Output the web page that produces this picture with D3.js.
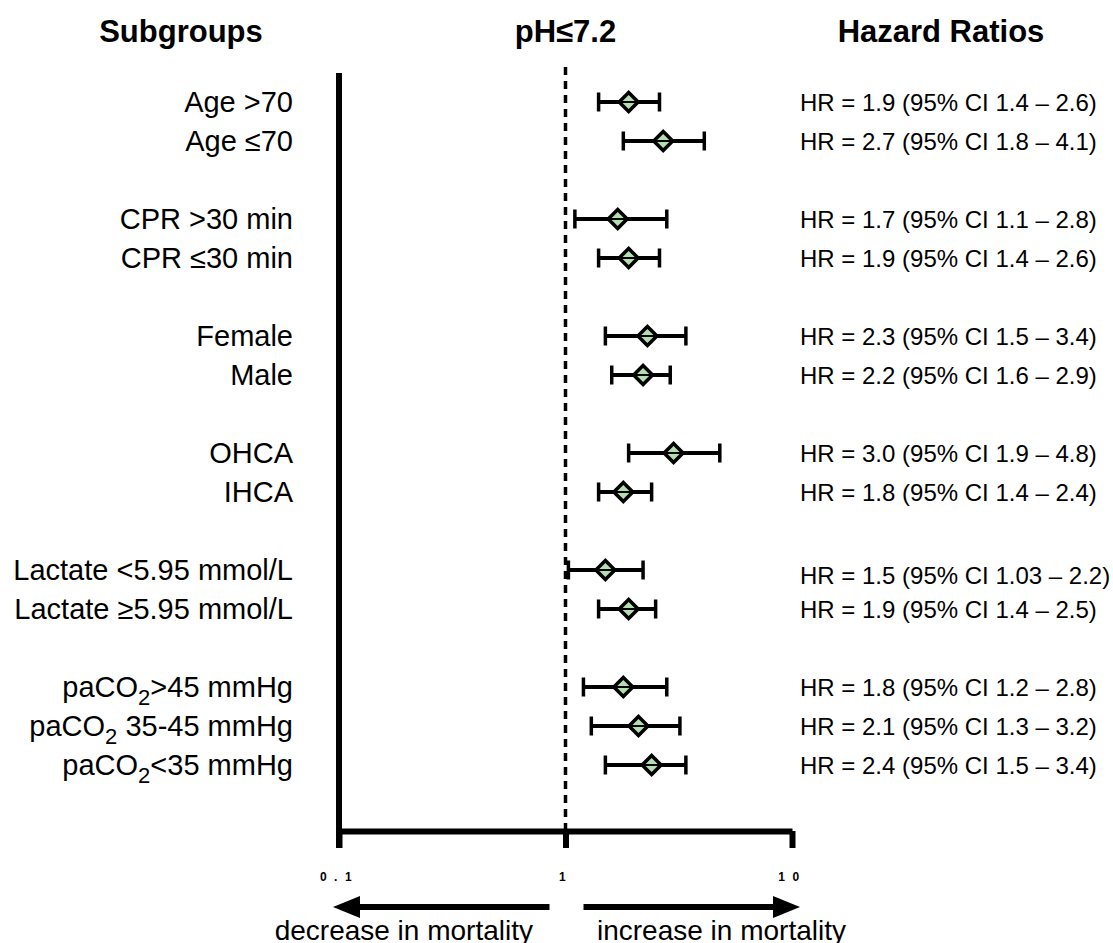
<!DOCTYPE html>
<html>
<head>
<meta charset="utf-8">
<script src="https://cdn.jsdelivr.net/npm/d3@7"></script>
<style>
  html, body { margin: 0; padding: 0; background: #fff; }
  svg { display: block; }
  text { font-family: "Liberation Sans", Arial, Helvetica, sans-serif; fill: #000; }
</style>
</head>
<body>
<svg id="chart" width="1113" height="943"></svg>
<script>
// ---- data ----
const subgroups = ["Age >70", "Age ≤70", "CPR >30 min", "CPR ≤30 min", "Female", "Male",
  "OHCA", "IHCA", "Lactate <5.95 mmol/L", "Lactate ≥5.95 mmol/L",
  "paCO2>45 mmHg", "paCO2 35-45 mmHg", "paCO2<35 mmHg"];
const groupIds = [0, 0, 1, 1, 2, 2, 3, 3, 4, 4, 5, 5, 5];
const hazardRatio = [1.9, 2.7, 1.7, 1.9, 2.3, 2.2, 3.0, 1.8, 1.5, 1.9, 1.8, 2.1, 2.4];
const ciLower = [1.4, 1.8, 1.1, 1.4, 1.5, 1.6, 1.9, 1.4, 1.03, 1.4, 1.2, 1.3, 1.5];
const ciUpper = [2.6, 4.1, 2.8, 2.6, 3.4, 2.9, 4.8, 2.4, 2.2, 2.5, 2.8, 3.2, 3.4];
const tickValues = [0.1, 1, 10];
const tickLabels = ["0.1", "1", "10"];
const headers = ["Subgroups", "pH≤7.2", "Hazard Ratios"];
const directionLabels = ["decrease in mortality", "increase in mortality"];

// ---- layout ----
const svg = d3.select("#chart");
const x = d3.scaleLog().domain([0.1, 10]).range([339, 792]);
const slots = subgroups.map((d, i) => i + groupIds[i]);
const y = d3.scaleLinear().domain([0, d3.max(slots)]).range([102, 765]);
const axisY = 831;
const rows = subgroups.map((s, i) => ({
  label: s, hr: hazardRatio[i], lo: ciLower[i], hi: ciUpper[i], slot: slots[i]
}));

// headers
const headerX = [181, x(1), 941];
svg.selectAll("text.header").data(headers).join("text")
  .attr("class", "header")
  .attr("x", (d, i) => headerX[i]).attr("y", 42)
  .attr("text-anchor", "middle")
  .style("font-weight", "bold").style("font-size", "31px")
  .text(d => d);

// left vertical line
svg.append("line")
  .attr("x1", x(0.1)).attr("x2", x(0.1))
  .attr("y1", 73).attr("y2", axisY + 17)
  .attr("stroke", "#000").attr("stroke-width", 6);

// dashed reference line at HR = 1
svg.append("line")
  .attr("x1", x(1)).attr("x2", x(1))
  .attr("y1", 67).attr("y2", axisY)
  .attr("stroke", "#000").attr("stroke-width", 3.5)
  .attr("stroke-dasharray", "8,6");

// bottom axis
const axis = d3.axisBottom(x)
  .tickValues(tickValues)
  .tickFormat((d, i) => tickLabels[i])
  .tickSize(17).tickSizeOuter(0).tickPadding(24);
const gAxis = svg.append("g").attr("transform", `translate(0,${axisY})`).call(axis);
gAxis.select(".domain").attr("stroke", "#000").attr("stroke-width", 6);
gAxis.selectAll(".tick line").attr("stroke", "#000").attr("stroke-width", 6);
gAxis.selectAll(".tick text")
  .attr("fill", "#000")
  .style("font-family", '"Liberation Sans", Arial, sans-serif')
  .style("font-size", "12px").style("font-weight", "bold")
  .style("letter-spacing", "7.5px");

// subgroup labels (with subscript for paCO2)
const labels = svg.selectAll("text.label").data(rows).join("text")
  .attr("class", "label")
  .attr("x", 293).attr("y", d => y(d.slot)).attr("dy", "0.36em")
  .attr("text-anchor", "end")
  .style("font-size", "29px");
labels.each(function(d) {
  const t = d3.select(this);
  const m = d.label.match(/^paCO2(.*)$/);
  if (m) {
    t.append("tspan").text("paCO");
    t.append("tspan").text("2").attr("dy", "8").style("font-size", "22px");
    t.append("tspan").text(m[1]).attr("dy", "-8");
  } else {
    t.text(d.label);
  }
});

// HR text
const fmt = v => (Math.round(v * 10) === v * 10 ? v.toFixed(1) : String(v));
svg.selectAll("text.hr").data(rows).join("text")
  .attr("class", "hr")
  .attr("x", 800).attr("y", d => y(d.slot) + (d.label.startsWith("Lactate <") ? 5 : 0))
  .attr("dy", "0.36em")
  .style("font-size", "24px")
  .text(d => `HR = ${d.hr.toFixed(1)} (95% CI ${fmt(d.lo)} – ${fmt(d.hi)})`);

// CI lines and caps
const gMarks = svg.append("g");
const capH = 9.5;
gMarks.selectAll("line.ci").data(rows).join("line")
  .attr("class", "ci")
  .attr("x1", d => x(d.lo)).attr("x2", d => x(d.hi))
  .attr("y1", d => y(d.slot)).attr("y2", d => y(d.slot))
  .attr("stroke", "#000").attr("stroke-width", 4);
gMarks.selectAll("line.capL").data(rows).join("line")
  .attr("class", "capL")
  .attr("x1", d => x(d.lo)).attr("x2", d => x(d.lo))
  .attr("y1", d => y(d.slot) - capH).attr("y2", d => y(d.slot) + capH)
  .attr("stroke", "#000").attr("stroke-width", 3.5);
gMarks.selectAll("line.capR").data(rows).join("line")
  .attr("class", "capR")
  .attr("x1", d => x(d.hi)).attr("x2", d => x(d.hi))
  .attr("y1", d => y(d.slot) - capH).attr("y2", d => y(d.slot) + capH)
  .attr("stroke", "#000").attr("stroke-width", 3.5);

// diamonds
const r = 9.5;
const diamond = d3.symbol().type(d3.symbolSquare).size(2 * r * r);
gMarks.selectAll("path.pt").data(rows).join("path")
  .attr("class", "pt")
  .attr("d", diamond)
  .attr("transform", d => `translate(${x(d.hr)},${y(d.slot)}) rotate(45)`)
  .attr("fill", "#b3dfb0").attr("stroke", "#000").attr("stroke-width", 3.5);
gMarks.selectAll("line.mid").data(rows).join("line")
  .attr("class", "mid")
  .attr("x1", d => x(d.hr) - r).attr("x2", d => x(d.hr) + r)
  .attr("y1", d => y(d.slot)).attr("y2", d => y(d.slot))
  .attr("stroke", "#000").attr("stroke-width", 2);

// direction arrows
const arrowY = 907;
const arrows = [
  { from: x(1) - 16, to: x(0.1) - 6 },
  { from: x(1) + 18, to: x(10) + 8 }
];
const headLen = 27, headHalf = 11;
arrows.forEach(a => {
  const dir = Math.sign(a.to - a.from);
  const base = a.to - dir * headLen;
  svg.append("line")
    .attr("x1", a.from).attr("x2", base)
    .attr("y1", arrowY).attr("y2", arrowY)
    .attr("stroke", "#000").attr("stroke-width", 6);
  svg.append("path")
    .attr("d", `M${a.to},${arrowY} L${base},${arrowY - headHalf} L${base},${arrowY + headHalf} Z`)
    .attr("fill", "#000");
});

// direction labels
svg.append("text")
  .attr("x", 533).attr("y", 940).attr("text-anchor", "end")
  .style("font-size", "28px").text(directionLabels[0]);
svg.append("text")
  .attr("x", 597).attr("y", 940).attr("text-anchor", "start")
  .style("font-size", "28px").text(directionLabels[1]);
</script>
</body>
</html>
